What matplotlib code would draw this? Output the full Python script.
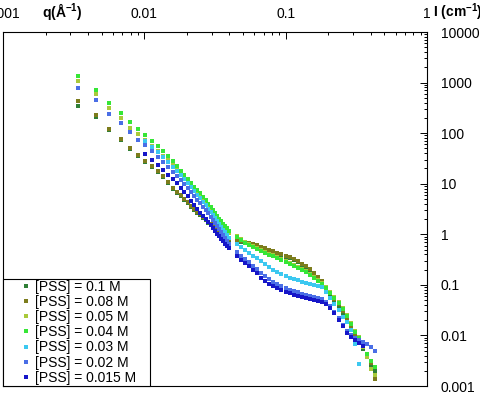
import matplotlib
matplotlib.use("Agg")
import numpy as np
import matplotlib.pyplot as plt

plt.rcParams['font.family'] = ['Liberation Sans', 'DejaVu Sans']
plt.rcParams['mathtext.fontset'] = 'custom'
plt.rcParams['mathtext.rm'] = 'Liberation Sans'
plt.rcParams['mathtext.bf'] = 'Liberation Sans:bold'

# q grids (A^-1): low-q setting (linear steps) and high-q setting
q_low = [0.0034, 0.00453, 0.00566, 0.00679, 0.00792, 0.00905, 0.01018, 0.01131,
         0.01244, 0.01357, 0.0147, 0.01583, 0.01696, 0.01809, 0.01922, 0.02035,
         0.02148, 0.02261, 0.02374, 0.02487, 0.026, 0.02713, 0.02826, 0.02939,
         0.03052, 0.03165, 0.03278, 0.03391, 0.03504, 0.03617, 0.0373, 0.03843, 0.03956]
q_high = [0.045, 0.048, 0.0514, 0.0549, 0.0587, 0.0627, 0.067, 0.0716, 0.0765, 0.0818,
          0.0874, 0.0934, 0.0998, 0.107, 0.114, 0.122, 0.13, 0.139, 0.149, 0.159,
          0.17, 0.181, 0.194, 0.207, 0.221, 0.237, 0.253, 0.27, 0.289, 0.309,
          0.33, 0.352, 0.377, 0.402, 0.43]

# I (cm^-1) for each [PSS]
i_01_low = [351, 212, 118, 72.7, 48.3, 35.1, 26.7, 21.2, 16.9, 13.5, 10.3, 7.96, 6.64,
            5.79, 4.83, 4.21, 3.51, 3.06, 2.67, 2.44, 2.12, 1.94, 1.69, 1.54, 1.35,
            1.23, 1.12, 1.03, 0.913, 0.872, 0.833, 0.796, 0.761]
i_01_high = [0.727, 0.695, 0.664, 0.634, 0.606, 0.579, 0.529, 0.505, 0.461, 0.441,
             0.402, 0.384, 0.351, 0.335, 0.306, 0.279, 0.244, 0.222, 0.194, 0.162,
             0.135, 0.112, 0.0872, 0.0664, 0.0505, 0.0384, 0.0279, 0.0203, 0.0141,
             0.01, 0.00727, 0.00529, 0.00367, 0.00255, 0.00194]

i_008_low = [441, 233, 123, 76.1, 50.5, 36.7, 27.9, 22.2, 17.7, 14.1, 10.7, 8.33, 6.95,
             6.06, 5.05, 4.41, 3.67, 3.20, 2.79, 2.55, 2.22, 2.03, 1.77, 1.62, 1.41,
             1.29, 1.18, 1.07, 0.955, 0.913, 0.872, 0.833, 0.796]
i_008_high = [0.761, 0.727, 0.695, 0.664, 0.634, 0.606, 0.553, 0.529, 0.483, 0.461,
              0.421, 0.402, 0.367, 0.351, 0.320, 0.292, 0.255, 0.233, 0.203, 0.169,
              0.141, 0.118, 0.0913, 0.0695, 0.0529, 0.0421, 0.0306, 0.0222, 0.0154,
              0.0107, 0.00796, 0.00579, 0.00402, 0.00279, 0.00135]

i_005_low = [1070, 606, 320, 203, 129, 95.5, 72.7, 55.3, 44.1, 35.1, 29.2, 23.3, 18.5,
             15.4, 12.9, 10.7, 9.13, 7.61, 6.64, 5.79, 4.83, 4.41, 3.67, 3.20, 2.79,
             2.44, 2.12, 1.85, 1.69, 1.48, 1.35, 1.23, 1.07]
i_005_high = [0.913, 0.796, 0.695, 0.634, 0.579, 0.529, 0.483, 0.441, 0.402, 0.384,
              0.351, 0.320, 0.292, 0.267, 0.244, 0.222, 0.203, 0.185, 0.162, 0.141,
              0.123, 0.107, 0.0913, 0.0727, 0.0579, 0.0461, 0.0351, 0.0255, 0.0177,
              0.0123, 0.00913, 0.00579, 0.00367, 0.00212, 0.00162]

i_004_low = [1350, 727, 402, 255, 169, 123, 91.3, 69.5, 55.3, 44.1, 35.1, 27.9, 22.2,
             17.7, 14.8, 12.3, 10.3, 8.72, 7.61, 6.64, 5.53, 4.83, 4.02, 3.51, 3.06,
             2.67, 2.33, 2.03, 1.85, 1.62, 1.48, 1.35, 1.18]
i_004_high = [0.872, 0.761, 0.664, 0.606, 0.553, 0.505, 0.461, 0.421, 0.384, 0.367,
              0.335, 0.306, 0.279, 0.255, 0.233, 0.212, 0.194, 0.177, 0.154, 0.135,
              0.118, 0.103, 0.0872, 0.0695, 0.0553, 0.0441, 0.0335, 0.0244, 0.0169,
              0.0118, 0.00872, 0.00634, 0.00421, 0.00306, 0.00233]

# 0.03 M and 0.015 M start at the 7th low-q point
i_003_low = [69.5, 52.9, 42.1, 33.5, 26.7, 21.2, 17.7, 14.8, 12.3, 10.3, 8.72, 7.27,
             6.06, 5.29, 4.41, 3.84, 3.20, 2.79, 2.44, 2.12, 1.85, 1.62, 1.41, 1.23,
             1.12, 0.955, 0.833]
i_003_high = [0.634, 0.553, 0.483, 0.421, 0.367, 0.335, 0.292, 0.255, 0.222, 0.194,
              0.177, 0.162, 0.148, 0.135, 0.129, 0.123, 0.112, 0.107, 0.103, 0.100,
              0.0955, 0.0913, 0.0727, 0.0553, 0.0421, 0.0320, 0.0233, 0.0185, 0.0129,
              0.00664, 0.00267]

i_002_low = [796, 461, 244, 162, 103, 72.7, 57.9, 44.1, 33.5, 26.7, 21.2, 16.9, 14.1,
             11.8, 10.0, 8.33, 6.95, 5.79, 4.83, 4.21, 3.51, 3.06, 2.67, 2.22, 1.94,
             1.69, 1.48, 1.29, 1.12, 0.955, 0.833, 0.727, 0.634]
i_002_high = [0.441, 0.367, 0.320, 0.279, 0.233, 0.203, 0.169, 0.148, 0.129, 0.112,
              0.103, 0.0955, 0.0872, 0.0796, 0.0761, 0.0711, 0.0664, 0.0634, 0.0606,
              0.0579, 0.0553, 0.0529, 0.0461, 0.0384, 0.0292, 0.0222, 0.0162, 0.0123,
              0.0100, 0.00872, 0.00796, 0.00727, 0.00664, 0.00579, 0.00483]

i_0015_low = [38.4, 29.2, 23.3, 18.5, 14.8, 12.3, 10.3, 8.33, 6.95, 5.79, 4.61, 3.84,
              3.20, 2.67, 2.33, 2.03, 1.77, 1.54, 1.35, 1.18, 1.03, 0.913, 0.796,
              0.727, 0.634, 0.579, 0.529]
i_0015_high = [0.367, 0.306, 0.267, 0.233, 0.194, 0.169, 0.135, 0.118, 0.103, 0.0955,
               0.0872, 0.0796, 0.0727, 0.0695, 0.0634, 0.0606, 0.0579, 0.0553, 0.0529,
               0.0505, 0.0483, 0.0461, 0.0421, 0.0351, 0.0279, 0.0203, 0.0154, 0.0112,
               0.00913, 0.00796, 0.00695, 0.00606]

labels = ["[PSS] = 0.1 M", "[PSS] = 0.08 M", "[PSS] = 0.05 M", "[PSS] = 0.04 M",
          "[PSS] = 0.03 M", "[PSS] = 0.02 M", "[PSS] = 0.015 M"]
colors = ["#2f7f36", "#7c7c1c", "#a9c93a", "#36e636", "#3cc8f0", "#4a6ee6", "#1616c8"]

series = [
    (q_low + q_high, i_01_low + i_01_high),
    (q_low + q_high, i_008_low + i_008_high),
    (q_low + q_high, i_005_low + i_005_high),
    (q_low + q_high, i_004_low + i_004_high),
    (q_low[6:] + q_high[:len(i_003_high)], i_003_low + i_003_high),
    (q_low + q_high, i_002_low + i_002_high),
    (q_low[6:] + q_high[:len(i_0015_high)], i_0015_low + i_0015_high),
]

fig = plt.figure(figsize=(4.8, 3.93), dpi=100)
ax = fig.add_axes([3/480, 7/393, 424/480, 354/393])

for (q, I), lab, c in zip(series, labels, colors):
    ax.plot(q, I, ls='none', marker='s', ms=2.2, mew=0, color=c, label=lab)

ax.set_xscale('log')
ax.set_yscale('log')
ax.set_xlim(0.001, 1)
ax.set_ylim(0.001, 10000)

ax.xaxis.tick_top()
ax.yaxis.tick_right()
ax.set_xticks([0.001, 0.01, 0.1, 1], ["0.001", "0.01", "0.1", "1"])
ax.set_yticks([0.001, 0.01, 0.1, 1, 10, 100, 1000, 10000],
              ["0.001", "0.01", "0.1", "1", "10", "100", "1000", "10000"])
ax.tick_params(which='both', direction='in', labelsize=10, width=0.7)
ax.tick_params(which='major', length=5)
ax.tick_params(which='minor', length=2.5)
ax.tick_params(axis='x', pad=8)
ax.tick_params(axis='y', pad=10)
for lbl in ax.get_yticklabels():
    lbl.set_horizontalalignment('left')
for s in ax.spines.values():
    s.set_linewidth(0.8)

fig.text(42/480, 1 - 12/393, r"q(Å$^{\mathbf{-1}}$)", fontsize=10, fontweight='bold',
         va='center', ha='left')
fig.text(433/480, 1 - 12/393, r"I (cm$^{\mathbf{-1}}$)", fontsize=10, fontweight='bold',
         va='center', ha='left')

leg = ax.legend(loc='lower left', bbox_to_anchor=(0, 0, 147/424, 0.3), mode='expand',
                borderaxespad=0, fontsize=10, frameon=True, fancybox=False,
                edgecolor='black', framealpha=1, borderpad=0.1, labelspacing=0.08,
                handlelength=3.1, handletextpad=-0.9, numpoints=1, markerscale=1.0)
leg.get_frame().set_linewidth(0.8)

fig.savefig("out.png", dpi=100)
